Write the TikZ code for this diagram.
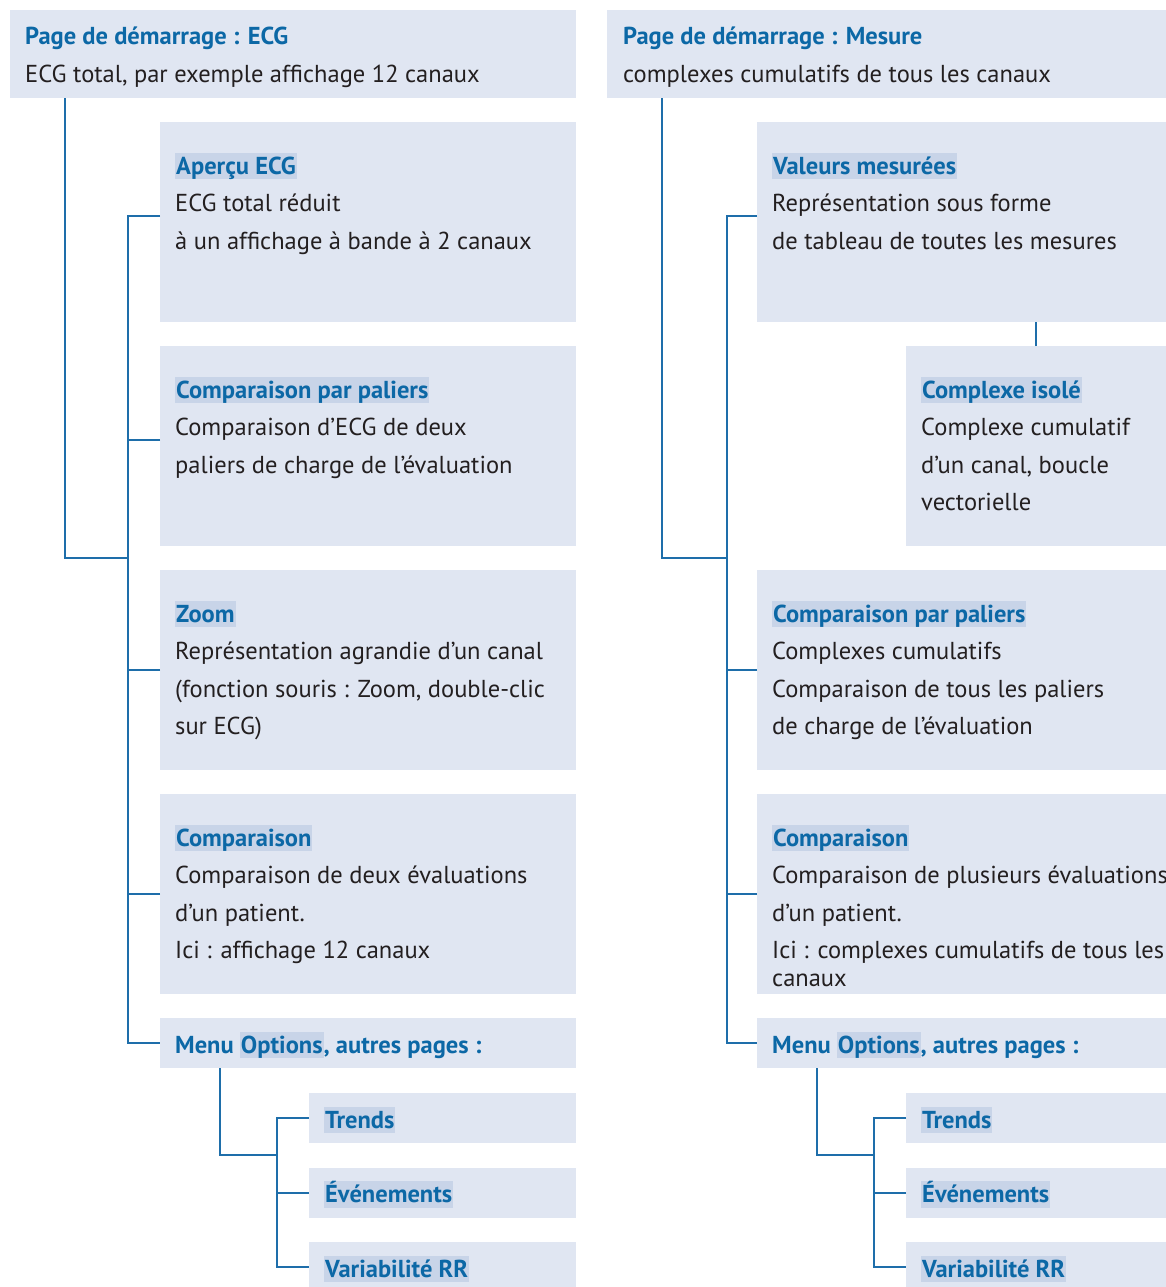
\documentclass[tikz,border=0pt]{standalone}
\usepackage{fontspec}
\setmainfont{PT Sans}
\definecolor{boxfill}{RGB}{224,230,242}
\definecolor{hlblue}{RGB}{200,212,232}
\definecolor{titleblue}{RGB}{12,104,166}
\definecolor{linkblue}{RGB}{30,110,170}
\definecolor{bodygray}{RGB}{35,31,32}
\newcommand{\hilite}[1]{{\setlength{\fboxsep}{0pt}\colorbox{hlblue}{\vrule height 21pt depth 5pt width 0pt\kern1pt#1\kern1pt}}}
\newcommand{\ttl}[1]{{\color{titleblue}\bfseries\vrule height 21pt width 0pt#1}}

\begin{document}
\begin{tikzpicture}[x=1pt, y=-1pt,
    box/.style={fill=boxfill, anchor=north west, inner sep=0pt, minimum width=416pt, minimum height=200pt},
    txt/.style={anchor=north west, inner sep=0pt, align=left, text=bodygray, font=\fontsize{24.5}{37.5}\selectfont},
    link/.style={draw=linkblue, line width=1.5pt}]
  \useasboundingbox (0,0) rectangle (1166,1287);

  % left column: ECG
  \node[box, minimum width=566pt, minimum height=88pt] (ecg) at (10,10) {};
  \node[box] (apercu) at (160,122) {};
  \node[box] (paliers) at (160,346) {};
  \node[box] (zoom) at (160,570) {};
  \node[box] (comp) at (160,794) {};
  \node[box, minimum height=50pt] (menu) at (160,1018) {};
  \node[box, minimum width=267pt, minimum height=50pt] (trends) at (309,1093) {};
  \node[box, minimum width=267pt, minimum height=50pt] (events) at (309,1168) {};
  \node[box, minimum width=267pt, minimum height=50pt] (rr) at (309,1242) {};

  % text: first baseline 21pt under the anchor
  \node[txt] (ecg-t) at (25,23.5) {\ttl{Page de démarrage : ECG}\\ECG total, par exemple affichage 12 canaux};
  \node[txt] (apercu-t) at (175,153) {\ttl{\hilite{Aperçu ECG}}\\ECG total réduit\\à un affichage à bande à 2 canaux};
  \node[txt] (paliers-t) at (175,377) {\ttl{\hilite{Comparaison par paliers}}\\Comparaison d'ECG de deux\\paliers de charge de l'évaluation};
  \node[txt] (zoom-t) at (175,601) {\ttl{\hilite{Zoom}}\\Représentation agrandie d'un canal\\(fonction souris : Zoom, double-clic\\sur ECG)};
  \node[txt] (comp-t) at (175,825) {\ttl{\hilite{Comparaison}}\\Comparaison de deux évaluations\\d'un patient.\\Ici : affichage 12 canaux};
  \node[txt] (menu-t) at (175,1032) {\ttl{Menu \hilite{Options}, autres pages :}};
  \node[txt] (trends-t) at (324,1107) {\ttl{\hilite{Trends}}};
  \node[txt] (events-t) at (324,1181) {\ttl{\hilite{Événements}}};
  \node[txt] (rr-t) at (324,1256) {\ttl{\hilite{Variabilité RR}}};

  \coordinate (ecg-j) at (128,558);
  \coordinate (menu-j) at (277,1155);
  \draw[link] ([xshift=55pt]ecg.south west) |- (ecg-j);
  \draw[link] ([yshift=6pt]apercu.west) -| (ecg-j) |- (menu.west);
  \draw[link] ([yshift=6pt]paliers.west) -- ([yshift=6pt]paliers.west -| ecg-j);
  \foreach \n in {zoom, comp}
    \draw[link] (\n.west) -- (\n.west -| ecg-j);
  \draw[link] ([xshift=60pt]menu.south west) |- (menu-j);
  \draw[link] (trends.west) -| (menu-j) |- (rr.west);
  \draw[link] (events.west) -- (events.west -| menu-j);

  % right column: Mesure
  \node[box, minimum width=559pt, minimum height=88pt] (mes) at (607,10) {};
  \node[box, minimum width=409pt] (vals) at (757,122) {};
  \node[box, minimum width=260pt] (cplx) at (906,346) {};
  \node[box, minimum width=409pt] (mpaliers) at (757,570) {};
  \node[box, minimum width=409pt] (mcomp) at (757,794) {};
  \node[box, minimum width=409pt, minimum height=50pt] (mmenu) at (757,1018) {};
  \node[box, minimum width=260pt, minimum height=50pt] (mtrends) at (906,1093) {};
  \node[box, minimum width=260pt, minimum height=50pt] (mevents) at (906,1168) {};
  \node[box, minimum width=260pt, minimum height=50pt] (mrr) at (906,1242) {};

  \node[txt] (mes-t) at (623,23.5) {\ttl{Page de démarrage : Mesure}\\complexes cumulatifs de tous les canaux};
  \node[txt] (vals-t) at (772,153) {\ttl{\hilite{Valeurs mesurées}}\\Représentation sous forme\\de tableau de toutes les mesures};
  \node[txt] (cplx-t) at (921,377) {\ttl{\hilite{Complexe isolé}}\\Complexe cumulatif\\d'un canal, boucle\\vectorielle};
  \node[txt] (mpaliers-t) at (772,601) {\ttl{\hilite{Comparaison par paliers}}\\Complexes cumulatifs\\Comparaison de tous les paliers\\de charge de l'évaluation};
  \node[txt] (mcomp-t) at (772,825) {\ttl{\hilite{Comparaison}}\\Comparaison de plusieurs évaluations\\d'un patient.\\Ici : complexes cumulatifs de tous les\\[-9.5pt]canaux};
  \node[txt] (mmenu-t) at (772,1032) {\ttl{Menu \hilite{Options}, autres pages :}};
  \node[txt] (mtrends-t) at (921,1107) {\ttl{\hilite{Trends}}};
  \node[txt] (mevents-t) at (921,1181) {\ttl{\hilite{Événements}}};
  \node[txt] (mrr-t) at (921,1256) {\ttl{\hilite{Variabilité RR}}};

  \coordinate (mes-j) at (727,558);
  \coordinate (mmenu-j) at (874,1155);
  \draw[link] ([xshift=55pt]mes.south west) |- (mes-j);
  \draw[link] ([yshift=6pt]vals.west) -| (mes-j) |- (mmenu.west);
  \draw[link] (cplx.north) -- (cplx.north |- vals.south);
  \foreach \n in {mpaliers, mcomp}
    \draw[link] (\n.west) -- (\n.west -| mes-j);
  \draw[link] ([xshift=60pt]mmenu.south west) |- (mmenu-j);
  \draw[link] (mtrends.west) -| (mmenu-j) |- (mrr.west);
  \draw[link] (mevents.west) -- (mevents.west -| mmenu-j);
\end{tikzpicture}
\end{document}
